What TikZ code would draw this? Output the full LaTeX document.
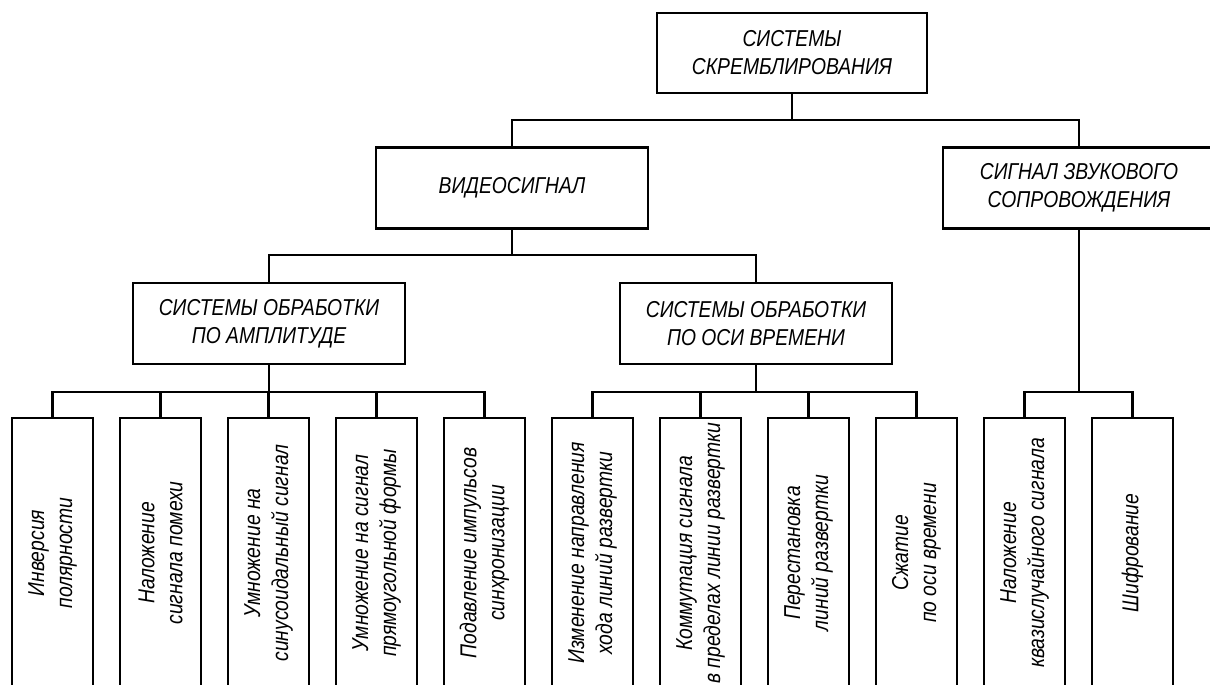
\documentclass[tikz,border=0pt]{standalone}
\usepackage{fontspec}
\setmainfont{Liberation Sans}[FakeStretch=0.84]
\usepackage{tikz}

\begin{document}
\begin{tikzpicture}[x=1pt,y=-1pt,
    line width=2.6pt,
    font=\fontsize{23}{28}\selectfont\itshape,
    mainbox/.style={draw, align=center, minimum width=272pt, minimum height=81pt, inner sep=0pt},
    leafbox/.style={draw, align=center, rotate=90, minimum width=270pt, minimum height=81pt, inner sep=0pt}]
    \useasboundingbox (0,0) rectangle (1210,685);
    \clip (0,0) rectangle (1210,685);
    % upper levels
    \node[mainbox, minimum width=270pt, minimum height=80pt] (scr) at (792,53) {СИСТЕМЫ\\СКРЕМБЛИРОВАНИЯ};
    \node[mainbox] (video) at (512,188) {ВИДЕОСИГНАЛ};
    \node[mainbox] (sound) at (1079,188) {СИГНАЛ ЗВУКОВОГО\\СОПРОВОЖДЕНИЯ};
    \node[mainbox] (ampl) at (269,323.5) {СИСТЕМЫ ОБРАБОТКИ\\ПО АМПЛИТУДЕ};
    \node[mainbox] (time) at (756,323.5) {СИСТЕМЫ ОБРАБОТКИ\\ПО ОСИ ВРЕМЕНИ};
    % leaves
    \foreach \txt [count=\i] in {{Инверсия\\полярности}, {Наложение\\сигнала помехи},
        {Умножение на\\синусоидальный сигнал}, {Умножение на сигнал\\прямоугольной формы},
        {Подавление импульсов\\синхронизации}, {Изменение направления\\хода линий развертки},
        {Коммутация сигнала\\в пределах линии развертки}, {Перестановка\\линий развертки},
        {Сжатие\\по оси времени}, {Наложение\\квазислучайного сигнала}, {Шифрование}}
        \node[leafbox] (l\i) at ({52.5+108*(\i-1)},553) {\txt};
    % connectors
    \coordinate (j0) at (scr.south |- 0,120);
    \coordinate (j1) at (video.south |- 0,255);
    \coordinate (ja) at (ampl.south |- 0,392);
    \coordinate (jt) at (time.south |- 0,392);
    \coordinate (js) at (sound.south |- 0,392);
    \draw (scr.south) -- (j0);
    \draw (video.north) |- (j0) -| (sound.north);
    \draw (video.south) -- (j1);
    \draw (ampl.north) |- (j1) -| (time.north);
    \foreach \i in {1,...,5} \draw (ampl.south) -- (ja) -| (l\i.east);
    \foreach \i in {6,...,9} \draw (time.south) -- (jt) -| (l\i.east);
    \foreach \i in {10,11} \draw (sound.south) -- (js) -| (l\i.east);
\end{tikzpicture}
\end{document}
